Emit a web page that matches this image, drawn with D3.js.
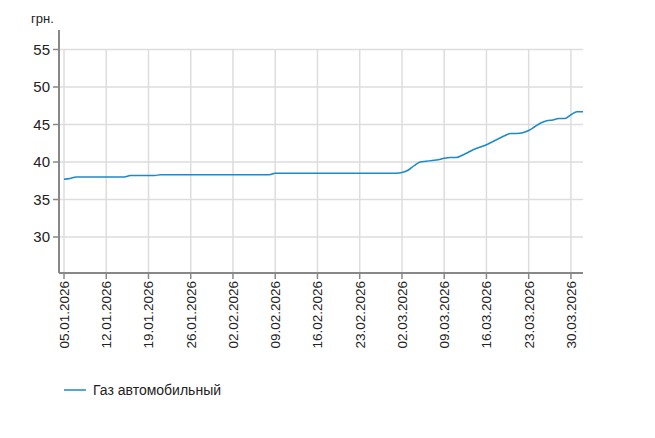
<!DOCTYPE html>
<html><head><meta charset="utf-8">
<script src="https://cdn.jsdelivr.net/npm/d3@7"></script>
<style>body{margin:0;background:#fff}text{font-family:Arial,"Liberation Sans",sans-serif}</style>
</head><body><svg id="c" width="655" height="438"></svg>
<script>
// daily prices, starting 05.01.2026
const startDate = new Date(2026, 0, 5);
const prices = [
  37.7, 37.8,
  38.0, 38.0, 38.0, 38.0, 38.0, 38.0, 38.0, 38.0, 38.0,
  38.2, 38.2, 38.2, 38.2, 38.2,
  38.3, 38.3, 38.3, 38.3, 38.3, 38.3, 38.3, 38.3, 38.3, 38.3,
  38.3, 38.3, 38.3, 38.3, 38.3, 38.3, 38.3, 38.3, 38.3,
  38.5, 38.5, 38.5, 38.5, 38.5, 38.5, 38.5, 38.5, 38.5, 38.5, 38.5,
  38.5, 38.5, 38.5, 38.5, 38.5, 38.5, 38.5, 38.5, 38.5, 38.5,
  38.6, 38.9, 39.5, 40.0, 40.1, 40.2, 40.3, 40.5, 40.6, 40.6,
  40.9, 41.3, 41.7, 42.0, 42.3, 42.7, 43.1, 43.5, 43.8, 43.8,
  43.9, 44.2, 44.7, 45.2, 45.5, 45.6, 45.8, 45.8,
  46.3, 46.7, 46.7
];
const yTicks = [30, 35, 40, 45, 50, 55];
const seriesName = "Газ автомобильный";
const unitLabel = "грн.";

const data = prices.map((v, i) => ({d: d3.timeDay.offset(startDate, i), v}));
const xTicks = d3.range(0, 13).map(w => d3.timeDay.offset(startDate, w * 7));

const svg = d3.select("#c");
const x = d3.scaleTime().domain([startDate, d3.timeDay.offset(startDate, 86)]).range([64, 583]);
const y = d3.scaleLinear().domain([25.2, 57.6]).range([273, 30]);
const fmt = d3.timeFormat("%d.%m.%Y");

// grid
svg.append("g").selectAll("line").data(yTicks).join("line")
  .attr("x1", 59).attr("x2", 583).attr("y1", d => y(d)).attr("y2", d => y(d))
  .attr("stroke", "#ddd").attr("stroke-width", 1.5);
svg.append("g").selectAll("line").data(xTicks).join("line")
  .attr("x1", d => x(d)).attr("x2", d => x(d)).attr("y1", 49).attr("y2", 273)
  .attr("stroke", "#ddd").attr("stroke-width", 1.5);

// axes
svg.append("line").attr("x1", 59).attr("x2", 59).attr("y1", 30).attr("y2", 273)
  .attr("stroke", "#888").attr("stroke-width", 2);
svg.append("line").attr("x1", 59).attr("x2", 583).attr("y1", 273).attr("y2", 273)
  .attr("stroke", "#888").attr("stroke-width", 2);
svg.append("g").selectAll("line").data(yTicks).join("line")
  .attr("x1", 53).attr("x2", 59).attr("y1", d => y(d)).attr("y2", d => y(d))
  .attr("stroke", "#888").attr("stroke-width", 1.5);
svg.append("g").selectAll("line").data(xTicks).join("line")
  .attr("x1", d => x(d)).attr("x2", d => x(d)).attr("y1", 273).attr("y2", 279)
  .attr("stroke", "#888").attr("stroke-width", 1.5);

svg.append("g").selectAll("text").data(yTicks).join("text")
  .attr("x", 50).attr("y", d => y(d)).attr("dy", "0.35em").attr("text-anchor", "end")
  .attr("font-size", 15).attr("fill", "#222").text(d => d);
svg.append("g").selectAll("text").data(xTicks).join("text")
  .attr("transform", d => `translate(${x(d) + 5},281) rotate(-90)`)
  .attr("text-anchor", "end").attr("font-size", 13.5).attr("fill", "#222").text(d => fmt(d));

svg.append("text").attr("x", 31).attr("y", 23).attr("font-size", 13).attr("fill", "#222").text(unitLabel);

// line
svg.append("path").datum(data)
  .attr("d", d3.line().x(d => x(d.d)).y(d => y(d.v)).curve(d3.curveMonotoneX))
  .attr("fill", "none").attr("stroke", "#1a8ac8").attr("stroke-width", 1.5);

// legend
svg.append("line").attr("x1", 64).attr("x2", 86).attr("y1", 390).attr("y2", 390)
  .attr("stroke", "#1a8ac8").attr("stroke-width", 1.5);
svg.append("text").attr("x", 93).attr("y", 390).attr("dy", "0.35em")
  .attr("font-size", 14).attr("fill", "#222").text(seriesName);
</script></body></html>
